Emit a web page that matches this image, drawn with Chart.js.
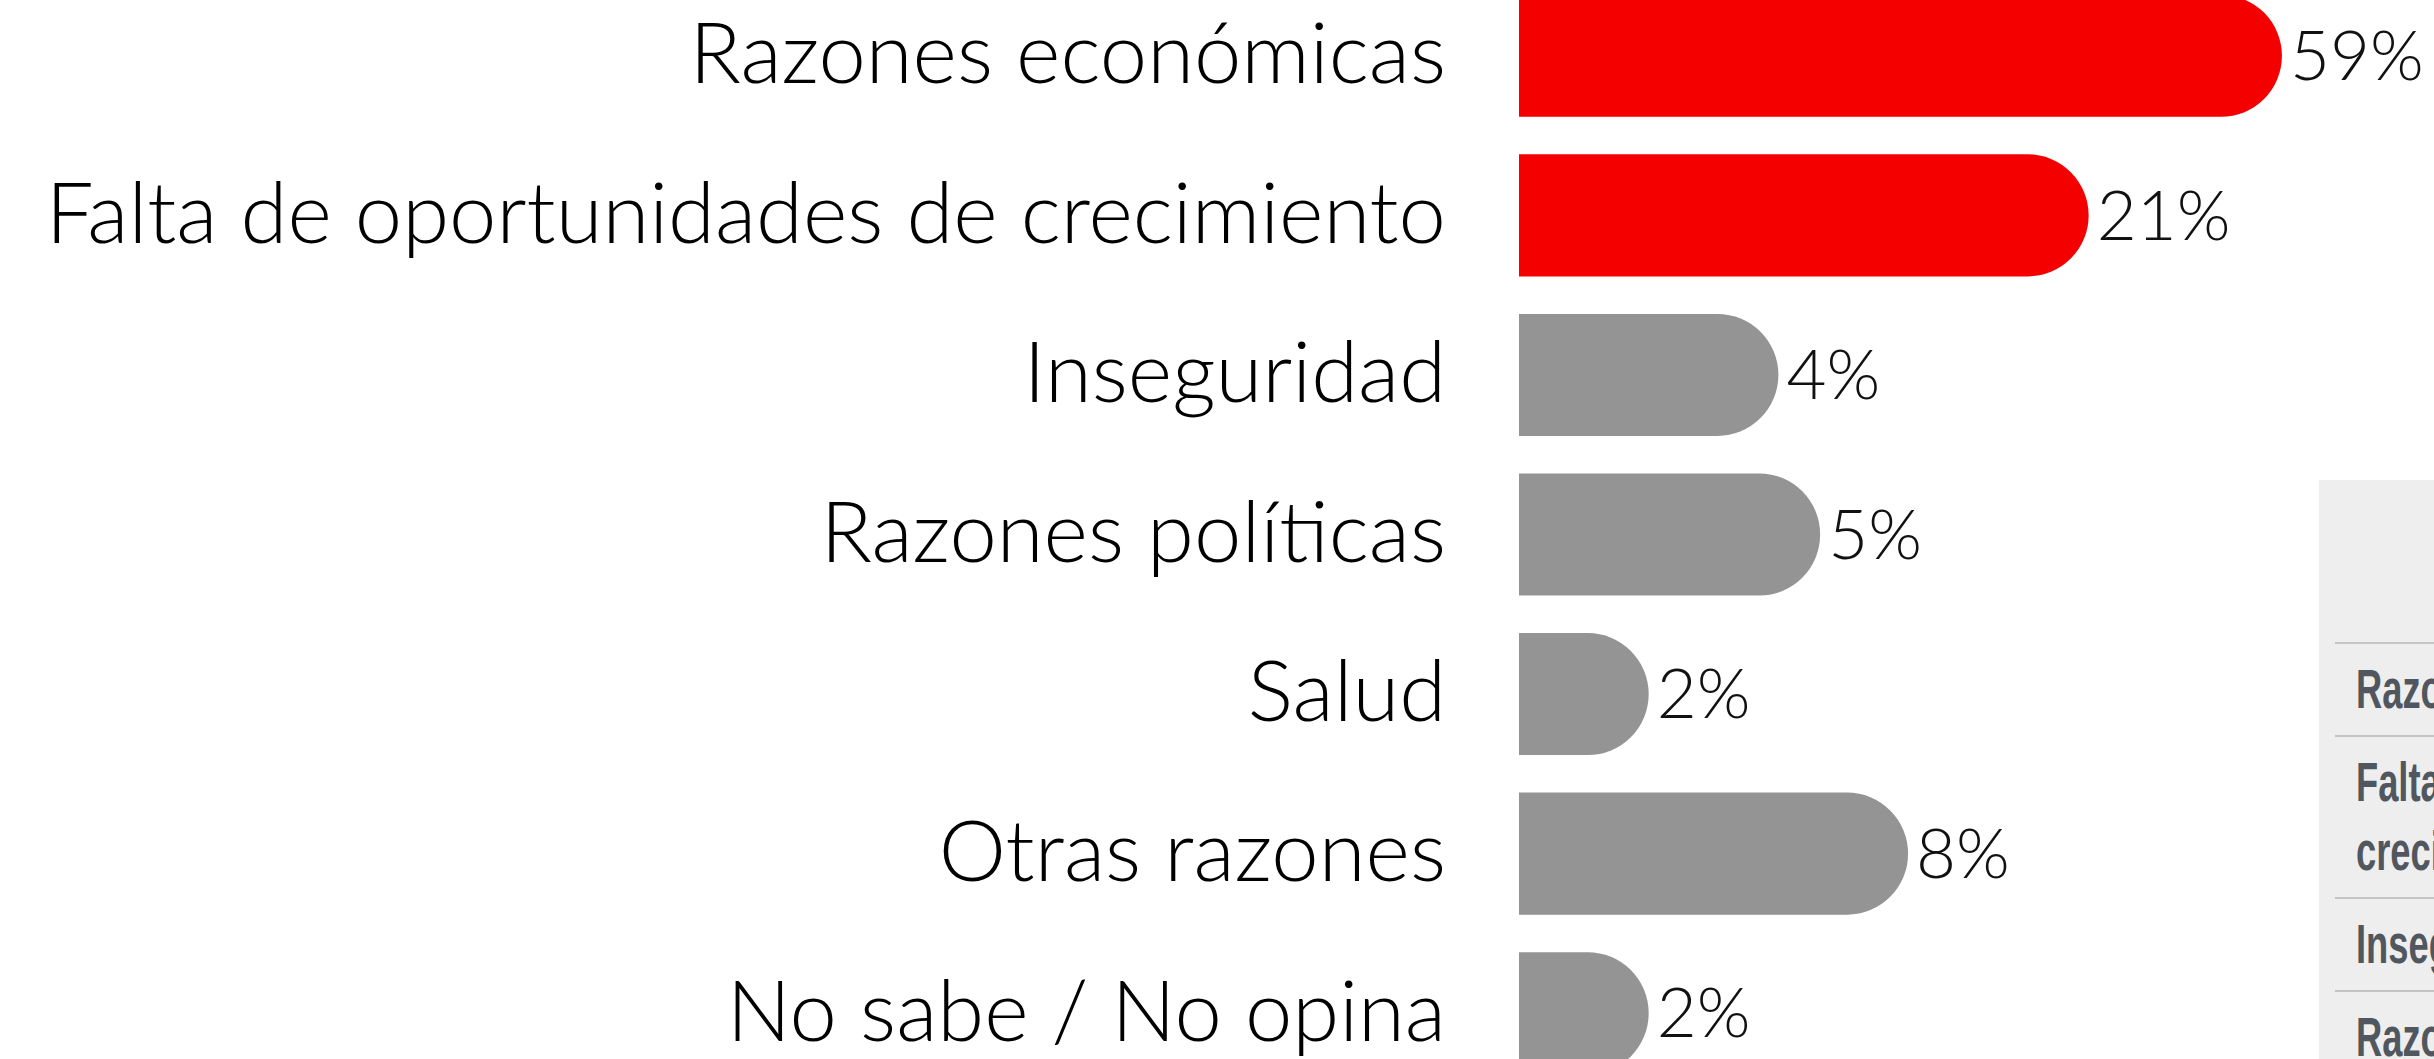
<!DOCTYPE html>
<html>
<head>
<meta charset="utf-8">
<script src="https://cdn.jsdelivr.net/npm/chart.js@4.4.1/dist/chart.umd.min.js"></script>
<style>
  html, body { margin: 0; padding: 0; background: #ffffff; width: 2434px; height: 1059px; overflow: hidden; position: relative; }
  #wrap { position: absolute; left: 0; top: -24px; width: 2434px; height: 1117px; }
  #panel { position: absolute; left: 2319px; top: 480px; width: 760px; height: 700px; background: #eeeeee; overflow: hidden; }
  #panel .inner { padding-left: 16px; }
  #panel .head { height: 162px; }
  #panel .row { border-top: 2px solid #c4c4c4; padding: 11px 0 11px 21px; width: 700px; }
  #panel .row span { display: block; width: 800px; transform: scaleX(0.66); transform-origin: 0 0; line-height: 69px;
    font-family: "Liberation Sans", Arial, sans-serif; font-weight: bold; font-size: 55px; color: #51575e; }
</style>
</head>
<body>
<div id="wrap"><canvas id="c" width="2434" height="1117"></canvas></div>
<div id="panel"><div class="inner"><div class="head"></div><div id="rows"></div></div></div>
<script>
const categories = [
  "Razones económicas",
  "Falta de oportunidades de crecimiento",
  "Inseguridad",
  "Razones políticas",
  "Salud",
  "Otras razones",
  "No sabe / No opina"
];
const values = [59, 21, 4, 5, 2, 8, 2];
const highlighted = [true, true, false, false, false, false, false];

const RED = "#f40000";
const GRAY = "#949494";

// side table (partially visible panel)
const rowsEl = document.getElementById("rows");
categories.forEach(function (c) {
  const d = document.createElement("div");
  d.className = "row";
  const s = document.createElement("span");
  s.textContent = c;
  d.appendChild(s);
  rowsEl.appendChild(d);
});

const valueLabels = {
  id: "valueLabels",
  afterDatasetsDraw(chart) {
    const ctx = chart.ctx;
    const meta = chart.getDatasetMeta(0);
    ctx.save();
    ctx.font = '300 69px Lato, "Noto Sans", sans-serif';
    ctx.fillStyle = "#111111";
    ctx.textAlign = "left";
    ctx.textBaseline = "middle";
    meta.data.forEach(function (bar, i) {
      ctx.fillText(values[i] + "%", bar.x + 8, bar.y + 2);
    });
    ctx.restore();
  }
};

new Chart(document.getElementById("c"), {
  type: "bar",
  data: {
    labels: categories,
    datasets: [{
      data: values,
      backgroundColor: highlighted.map(h => h ? RED : GRAY),
      borderWidth: 0,
      borderRadius: 61,
      borderSkipped: "start",
      barPercentage: 0.765,
      categoryPercentage: 1.0
    }]
  },
  options: {
    indexAxis: "y",
    responsive: false,
    animation: false,
    layout: { padding: 0 },
    plugins: { legend: { display: false }, tooltip: { enabled: false } },
    scales: {
      x: {
        type: "logarithmic",
        min: 1,
        max: 133,
        display: false
      },
      y: {
        grid: { display: false, drawTicks: false },
        border: { display: false },
        ticks: {
          color: "#000000",
          padding: 73,
          font: { family: 'Lato, "Noto Sans", sans-serif', size: 85, weight: "300" }
        },
        afterFit(scale) {
          scale.width = 1519;
          scale.paddingTop = 0;
          scale.paddingBottom = 0;
        }
      }
    }
  },
  plugins: [valueLabels]
});
</script>
</body>
</html>
